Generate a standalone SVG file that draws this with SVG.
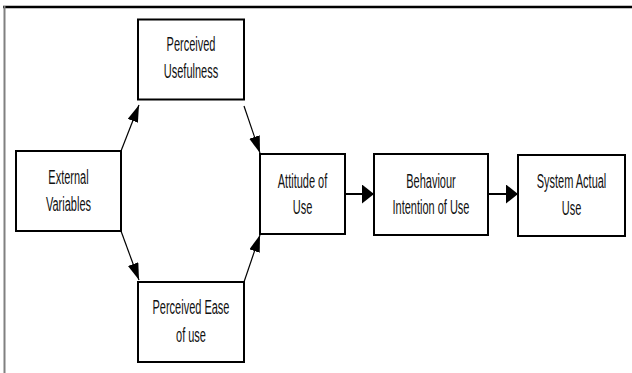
<svg xmlns="http://www.w3.org/2000/svg" width="632" height="373" viewBox="0 0 632 373">
<style>
.box{fill:#fff;stroke:#000;stroke-width:2}
.lbl{font-family:"Liberation Sans",Arial,sans-serif;font-size:20px;fill:#111;text-anchor:middle}
.diag{stroke:#000;stroke-width:1.2;fill:none}
.horiz{stroke:#000;stroke-width:2;fill:none}
</style>
<defs>
<marker id="ah" markerUnits="userSpaceOnUse" markerWidth="18" markerHeight="12" refX="17" refY="5.5" orient="auto">
<path d="M0,0 L17,5.5 L0,11 z" fill="#000"/>
</marker>
<marker id="ahh" markerUnits="userSpaceOnUse" markerWidth="13" markerHeight="20" refX="12" refY="9.5" orient="auto">
<path d="M0,0 L12,9.5 L0,19 z" fill="#000"/>
</marker>
</defs>
<rect width="632" height="373" fill="#fff"/>
<g id="frame">
<line x1="3" y1="7" x2="632" y2="7" stroke="#000" stroke-width="2.5"/>
<line x1="4.5" y1="6" x2="4.5" y2="373" stroke="#808080" stroke-width="2"/>
</g>
<g id="connectors">
<line class="diag" x1="121" y1="151" x2="139" y2="105" marker-end="url(#ah)"/>
<line class="diag" x1="244" y1="106" x2="260" y2="153" marker-end="url(#ah)"/>
<line class="diag" x1="121" y1="231" x2="139" y2="280" marker-end="url(#ah)"/>
<line class="diag" x1="244" y1="282" x2="260" y2="235" marker-end="url(#ah)"/>
<line class="horiz" x1="345" y1="194" x2="374" y2="194" marker-end="url(#ahh)"/>
<line class="horiz" x1="488" y1="194" x2="518" y2="194" marker-end="url(#ahh)"/>
</g>
<g id="perceived-usefulness">
<rect class="box" x="138" y="19.5" width="106" height="80"/>
<text class="lbl" transform="scale(0.55,1)" x="347.27" y="51">Perceived</text>
<text class="lbl" transform="scale(0.55,1)" x="347.27" y="78">Usefulness</text>
</g>
<g id="external-variables">
<rect class="box" x="16" y="151" width="105" height="80"/>
<text class="lbl" transform="scale(0.55,1)" x="124.55" y="184">External</text>
<text class="lbl" transform="scale(0.55,1)" x="124.55" y="211.5">Variables</text>
</g>
<g id="attitude-of-use">
<rect class="box" x="260" y="154" width="85" height="80"/>
<text class="lbl" transform="scale(0.55,1)" x="550" y="188">Attitude of</text>
<text class="lbl" transform="scale(0.55,1)" x="550" y="214.5">Use</text>
</g>
<g id="behaviour-intention">
<rect class="box" x="374" y="154" width="114" height="81"/>
<text class="lbl" transform="scale(0.55,1)" x="783.64" y="188">Behaviour</text>
<text class="lbl" transform="scale(0.55,1)" x="783.64" y="214.5">Intention of Use</text>
</g>
<g id="system-actual-use">
<rect class="box" x="518" y="155" width="107" height="81"/>
<text class="lbl" transform="scale(0.55,1)" x="1039.09" y="188">System Actual</text>
<text class="lbl" transform="scale(0.55,1)" x="1039.09" y="215">Use</text>
</g>
<g id="perceived-ease-of-use">
<rect class="box" x="138" y="282" width="106" height="80"/>
<text class="lbl" transform="scale(0.55,1)" x="347.27" y="314.5">Perceived Ease</text>
<text class="lbl" transform="scale(0.55,1)" x="347.27" y="342">of use</text>
</g>
</svg>
